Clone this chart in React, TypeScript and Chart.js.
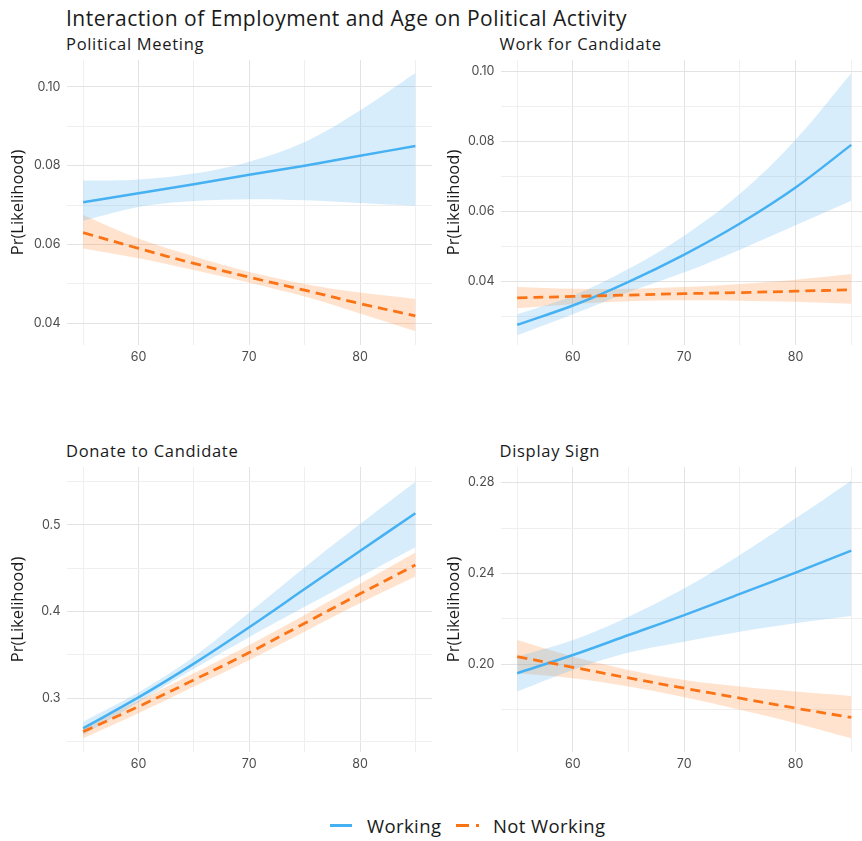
import React, { useEffect, useRef } from 'react';
import { Chart, registerables } from 'chart.js';
Chart.register(...registerables);

// ---------- data ----------
const ages = [55, 60, 65, 70, 75, 80, 85];
const xTicks = [55, 60, 65, 70, 75, 80, 85];
const xLabelled = [60, 70, 80];

// Political Meeting
const meetWork = [0.0707, 0.0730, 0.0753, 0.0777, 0.0800, 0.0825, 0.0850];
const meetWorkHi = [0.0762, 0.0765, 0.0780, 0.0810, 0.0860, 0.0940, 0.1035];
const meetWorkLo = [0.0660, 0.0695, 0.0710, 0.0715, 0.0712, 0.0705, 0.0698];
const meetNot = [0.0630, 0.0590, 0.0552, 0.0517, 0.0484, 0.0450, 0.0419];
const meetNotHi = [0.0675, 0.0615, 0.0570, 0.0530, 0.0500, 0.0478, 0.0462];
const meetNotLo = [0.0590, 0.0565, 0.0535, 0.0503, 0.0468, 0.0425, 0.0380];
const meetTicks = [0.04, 0.05, 0.06, 0.07, 0.08, 0.09, 0.10];
const meetLabels = ['0.04', '', '0.06', '', '0.08', '', '0.10'];

// Work for Candidate
const workWork = [0.0275, 0.0330, 0.0398, 0.0476, 0.0565, 0.0668, 0.0790];
const workWorkHi = [0.0305, 0.0358, 0.0435, 0.0530, 0.0650, 0.0805, 0.0995];
const workWorkLo = [0.0245, 0.0305, 0.0368, 0.0425, 0.0490, 0.0560, 0.0630];
const workNot = [0.0352, 0.0356, 0.0360, 0.0364, 0.0367, 0.0371, 0.0375];
const workNotHi = [0.0383, 0.0378, 0.0378, 0.0383, 0.0392, 0.0404, 0.0420];
const workNotLo = [0.0322, 0.0334, 0.0342, 0.0345, 0.0344, 0.0341, 0.0335];
const workTicks = [0.03, 0.04, 0.05, 0.06, 0.07, 0.08, 0.09, 0.10];
const workLabels = ['', '0.04', '', '0.06', '', '0.08', '', '0.10'];

// Donate to Candidate
const donWork = [0.2654, 0.3010, 0.3400, 0.3820, 0.4260, 0.4700, 0.5135];
const donWorkHi = [0.2730, 0.3070, 0.3480, 0.3990, 0.4510, 0.5010, 0.5500];
const donWorkLo = [0.2577, 0.2955, 0.3340, 0.3705, 0.4055, 0.4400, 0.4742];
const donNot = [0.2615, 0.2904, 0.3212, 0.3527, 0.3865, 0.4205, 0.4538];
const donNotHi = [0.2673, 0.2973, 0.3288, 0.3615, 0.3962, 0.4319, 0.4681];
const donNotLo = [0.2538, 0.2827, 0.3135, 0.3442, 0.3769, 0.4096, 0.4404];
const donTicks = [0.25, 0.30, 0.35, 0.40, 0.45, 0.50, 0.55];
const donLabels = ['', '0.3', '', '0.4', '', '0.5', ''];

// Display Sign
const signWork = [0.1961, 0.2041, 0.2129, 0.2217, 0.2310, 0.2404, 0.2501];
const signWorkHi = [0.2034, 0.2107, 0.2210, 0.2335, 0.2482, 0.2643, 0.2809];
const signWorkLo = [0.1880, 0.1975, 0.2052, 0.2100, 0.2144, 0.2181, 0.2213];
const signNot = [0.2034, 0.1987, 0.1940, 0.1895, 0.1851, 0.1807, 0.1766];
const signNotHi = [0.2107, 0.2034, 0.1975, 0.1931, 0.1902, 0.1880, 0.1861];
const signNotLo = [0.1961, 0.1939, 0.1902, 0.1855, 0.1800, 0.1741, 0.1675];
const signTicks = [0.18, 0.20, 0.22, 0.24, 0.26, 0.28];
const signLabels = ['', '0.20', '', '0.24', '', '0.28'];

const BLUE = '#46b1f2';
const ORANGE = '#fb7314';
const BLUE_FILL = 'rgba(86,180,238,0.24)';
const ORANGE_FILL = 'rgba(253,140,50,0.24)';
const TEXT = '#1a1a1a';
const TICK = '#4d4d4d';
const TITLE_FONT = '"Open Sans", sans-serif';
const TICK_FONT = 'Inter, sans-serif';
const MAJOR_GRID = '#e3e3e3';
const MINOR_GRID = '#efefef';

type PanelProps = {
  title: string;
  left: number;
  top: number;
  width: number;
  yTitlePad: number;
  work: number[];
  workHi: number[];
  workLo: number[];
  not: number[];
  notHi: number[];
  notLo: number[];
  yMin: number;
  yMax: number;
  yTicks: number[];
  yLabels: string[];
};

const pts = (ys: number[]) => ages.map((x, i) => ({ x, y: ys[i] }));

function Panel(p: PanelProps) {
  const ref = useRef<HTMLCanvasElement>(null);
  useEffect(() => {
    if (!ref.current) return;
    const band = (hi: number[], lo: number[], fill: string) => [
      { data: pts(hi), borderWidth: 0, pointRadius: 0, backgroundColor: fill, fill: '+1', tension: 0.35 },
      { data: pts(lo), borderWidth: 0, pointRadius: 0, backgroundColor: fill, fill: false, tension: 0.35 },
    ];
    const xLab = (v: number) => (xLabelled.indexOf(v) >= 0 ? String(v) : '');
    const yIdx = (v: number) => p.yTicks.findIndex((t) => Math.abs(t - v) < 1e-9);
    const chart = new Chart(ref.current, {
      type: 'line',
      data: {
        datasets: [
          ...band(p.workHi, p.workLo, BLUE_FILL),
          ...band(p.notHi, p.notLo, ORANGE_FILL),
          { data: pts(p.not), borderColor: ORANGE, borderWidth: 2.8, borderDash: [10, 6], pointRadius: 0, fill: false, tension: 0.35 },
          { data: pts(p.work), borderColor: BLUE, borderWidth: 2.5, pointRadius: 0, fill: false, tension: 0.35 },
        ] as any,
      },
      options: {
        animation: false,
        responsive: false,
        maintainAspectRatio: false,
        events: [],
        layout: { padding: 0, autoPadding: false } as any,
        plugins: {
          legend: { display: false },
          tooltip: { enabled: false },
          title: { display: false },
          filler: { drawTime: 'beforeDatasetsDraw' } as any,
        },
        scales: {
          x: {
            type: 'linear',
            min: 53.5,
            max: 86.5,
            bounds: 'data',
            border: { display: false },
            grid: {
              drawTicks: false,
              color: (c: any) => (xLab(c.tick.value) ? MAJOR_GRID : MINOR_GRID),
              lineWidth: 1,
            },
            ticks: {
              autoSkip: false,
              maxRotation: 0,
              padding: 5,
              color: TICK,
              font: { family: TICK_FONT, size: 12.5 },
              callback: (v: any) => xLab(Number(v)),
            },
            afterBuildTicks: (s: any) => { s.ticks = xTicks.map((v) => ({ value: v })); },
            afterFit: (s: any) => { s.height = 30; s.paddingLeft = 0; s.paddingRight = 0; },
          },
          y: {
            type: 'linear',
            min: p.yMin,
            max: p.yMax,
            bounds: 'data',
            border: { display: false },
            grid: {
              drawTicks: false,
              color: (c: any) => {
                const i = yIdx(c.tick.value);
                return i >= 0 && p.yLabels[i] ? MAJOR_GRID : MINOR_GRID;
              },
              lineWidth: 1,
            },
            ticks: {
              autoSkip: false,
              padding: 6,
              color: TICK,
              font: { family: TICK_FONT, size: 12.5 },
              callback: (v: any) => {
                const i = yIdx(Number(v));
                return i >= 0 ? p.yLabels[i] : '';
              },
            },
            afterBuildTicks: (s: any) => { s.ticks = p.yTicks.map((v) => ({ value: v })); },
            title: {
              display: true,
              text: 'Pr(Likelihood)',
              color: TEXT,
              padding: { top: p.yTitlePad, bottom: 0 },
              font: { family: TITLE_FONT, size: 16.5 },
            },
            afterFit: (s: any) => { s.width = 66.5; s.paddingTop = 0; s.paddingBottom = 0; },
          },
        },
      } as any,
    });
    return () => chart.destroy();
  }, []);
  return (
    <>
      <div
        style={{
          position: 'absolute',
          left: p.left + 66,
          top: p.top - 27,
          fontFamily: TITLE_FONT,
          fontSize: 16.5,
          letterSpacing: '0.7px',
          lineHeight: '22px',
          color: TEXT,
          whiteSpace: 'nowrap',
        }}
      >
        {p.title}
      </div>
      <canvas
        ref={ref}
        width={p.width}
        height={315}
        style={{ position: 'absolute', left: p.left, top: p.top, width: p.width, height: 315 }}
      />
    </>
  );
}

export default function App() {
  return (
    <div
      style={{
        position: 'fixed',
        left: 0,
        top: 0,
        width: 862,
        height: 841,
        background: '#fff',
        overflow: 'hidden',
      }}
    >
      <div
        style={{
          position: 'absolute',
          left: 66,
          top: 4,
          fontFamily: TITLE_FONT,
          fontSize: 21,
          letterSpacing: '0.5px',
          lineHeight: '28px',
          color: TEXT,
          whiteSpace: 'nowrap',
        }}
      >
        Interaction of Employment and Age on Political Activity
      </div>
      <Panel title="Political Meeting" left={0} top={60} width={432} yTitlePad={8.4}
        work={meetWork} workHi={meetWorkHi} workLo={meetWorkLo}
        not={meetNot} notHi={meetNotHi} notLo={meetNotLo}
        yMin={0.0345} yMax={0.1068} yTicks={meetTicks} yLabels={meetLabels} />
      <Panel title="Work for Candidate" left={433.5} top={60} width={434} yTitlePad={10}
        work={workWork} workHi={workWorkHi} workLo={workWorkLo}
        not={workNot} notHi={workNotHi} notLo={workNotLo}
        yMin={0.0217} yMax={0.1033} yTicks={workTicks} yLabels={workLabels} />
      <Panel title="Donate to Candidate" left={0} top={467} width={432} yTitlePad={8.4}
        work={donWork} workHi={donWorkHi} workLo={donWorkLo}
        not={donNot} notHi={donNotHi} notLo={donNotLo}
        yMin={0.238} yMax={0.5669} yTicks={donTicks} yLabels={donLabels} />
      <Panel title="Display Sign" left={433.5} top={467} width={434} yTitlePad={10}
        work={signWork} workHi={signWorkHi} workLo={signWorkLo}
        not={signNot} notHi={signNotHi} notLo={signNotLo}
        yMin={0.1614} yMax={0.2869} yTicks={signTicks} yLabels={signLabels} />

      {/* legend */}
      <div style={{ position: 'absolute', left: 330, top: 824, width: 22, height: 3, background: BLUE }} />
      <div style={{ position: 'absolute', left: 367, top: 813, fontFamily: TITLE_FONT, fontSize: 18.5, letterSpacing: '0.4px', lineHeight: '26px', color: TEXT, whiteSpace: 'nowrap' }}>
        Working
      </div>
      <div style={{ position: 'absolute', left: 456, top: 824, width: 13, height: 3, background: ORANGE }} />
      <div style={{ position: 'absolute', left: 476, top: 824, width: 3, height: 3, background: ORANGE }} />
      <div style={{ position: 'absolute', left: 493, top: 813, fontFamily: TITLE_FONT, fontSize: 18.5, letterSpacing: '0.4px', lineHeight: '26px', color: TEXT, whiteSpace: 'nowrap' }}>
        Not Working
      </div>
    </div>
  );
}
